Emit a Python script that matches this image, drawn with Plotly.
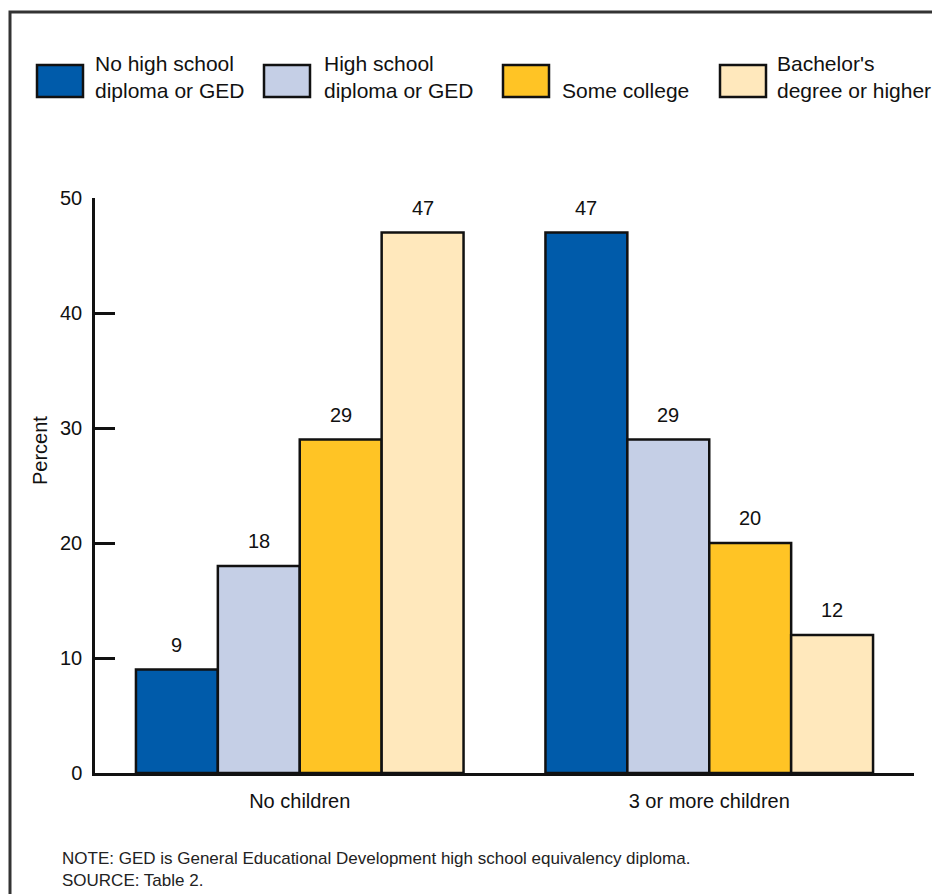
import plotly.graph_objects as go

categories = ["No children", "3 or more children"]
series_names = ["No high school<br>diploma or GED", "High school<br>diploma or GED",
                "Some college", "Bachelor's<br>degree or higher"]
values_no_hs = [9, 47]
values_hs = [18, 29]
values_some_college = [29, 20]
values_bachelor = [47, 12]
colors = ["#005BAA", "#C5CFE6", "#FFC425", "#FFE8BC"]
y_ticks = [0, 10, 20, 30, 40, 50]

all_values = [values_no_hs, values_hs, values_some_college, values_bachelor]

FONT = "Liberation Sans, Arial, sans-serif"
OFF = 8  # page body margin
W, H = 940 - OFF, 894 - OFF
L, T = 95 - OFF, 198 - OFF
R, B = 26, 121
pw, ph = W - L - R, H - T - B

fig = go.Figure()
for name, vals, col in zip(series_names, all_values, colors):
    fig.add_trace(go.Bar(
        x=categories, y=vals, name=name.replace("<br>", " "),
        marker=dict(color=col, line=dict(color="#111111", width=2.5)),
        showlegend=False, hoverinfo="y"))

# value labels
bargap = 0.2
bar_px = pw / 2 * (1 - bargap) / 4
annotations = []
for i, vals in enumerate(all_values):
    for j, v in enumerate(vals):
        annotations.append(dict(
            x=categories[j], y=v, xref="x", yref="y",
            xshift=(i - 1.5) * bar_px, yshift=12,
            text=str(v), showarrow=False, yanchor="bottom",
            font=dict(size=20, color="#111111", family=FONT)))


def px_x(x):
    return (x - OFF - L) / pw


def px_y(y):
    return (H - B - (y - OFF)) / ph


# custom legend
legend_items = [(37, 93), (264, 322), (503, 560), (720, 775)]
shapes = []
for (sx, tx), name, col in zip(legend_items, series_names, colors):
    shapes.append(dict(type="rect", xref="paper", yref="paper",
                       x0=px_x(sx), x1=px_x(sx + 46), y0=px_y(97), y1=px_y(65),
                       fillcolor=col, line=dict(color="#111111", width=2.5)))
    annotations.append(dict(
        x=px_x(tx), y=px_y(104), xref="paper", yref="paper",
        xanchor="left", yanchor="bottom", align="left", showarrow=False,
        text=name, font=dict(size=21, color="#111111", family=FONT)))

# frame
shapes.append(dict(type="rect", xref="paper", yref="paper",
                   x0=px_x(10), x1=px_x(960), y0=px_y(920), y1=px_y(12),
                   line=dict(color="#333333", width=3), fillcolor="rgba(0,0,0,0)",
                   layer="below"))

annotations.append(dict(
    x=px_x(40), y=px_y(451), xref="paper", yref="paper", textangle=-90,
    xanchor="center", yanchor="middle",
    text="Percent", showarrow=False,
    font=dict(size=20, color="#111111", family=FONT)))

annotations.append(dict(
    x=px_x(60), y=px_y(847), xref="paper", yref="paper",
    xanchor="left", yanchor="top", align="left", showarrow=False,
    text="NOTE: GED is General Educational Development high school equivalency diploma.<br>SOURCE: Table 2.",
    font=dict(size=17, color="#222222", family=FONT)))

fig.update_layout(
    width=W, height=H,
    margin=dict(l=L, r=R, t=T, b=B, autoexpand=False),
    paper_bgcolor="white", plot_bgcolor="white",
    barmode="group", bargap=bargap, bargroupgap=0,
    font=dict(family=FONT, color="#111111"),
    shapes=shapes, annotations=annotations,
    xaxis=dict(showline=True, linecolor="#111111", linewidth=2.5,
               ticks="", tickfont=dict(size=20, family=FONT, color="#111111"),
               showgrid=False, fixedrange=True, ticklabelstandoff=8),
    yaxis=dict(range=[0, 50], tickvals=y_ticks, showline=True, linecolor="#111111",
               linewidth=2.5, ticks="inside", ticklen=20, tickwidth=2.5,
               tickcolor="#111111", showgrid=False, zeroline=False,
               tickfont=dict(size=20, family=FONT, color="#111111"),
               ticklabelstandoff=6),
)

fig.write_html("out.html")
